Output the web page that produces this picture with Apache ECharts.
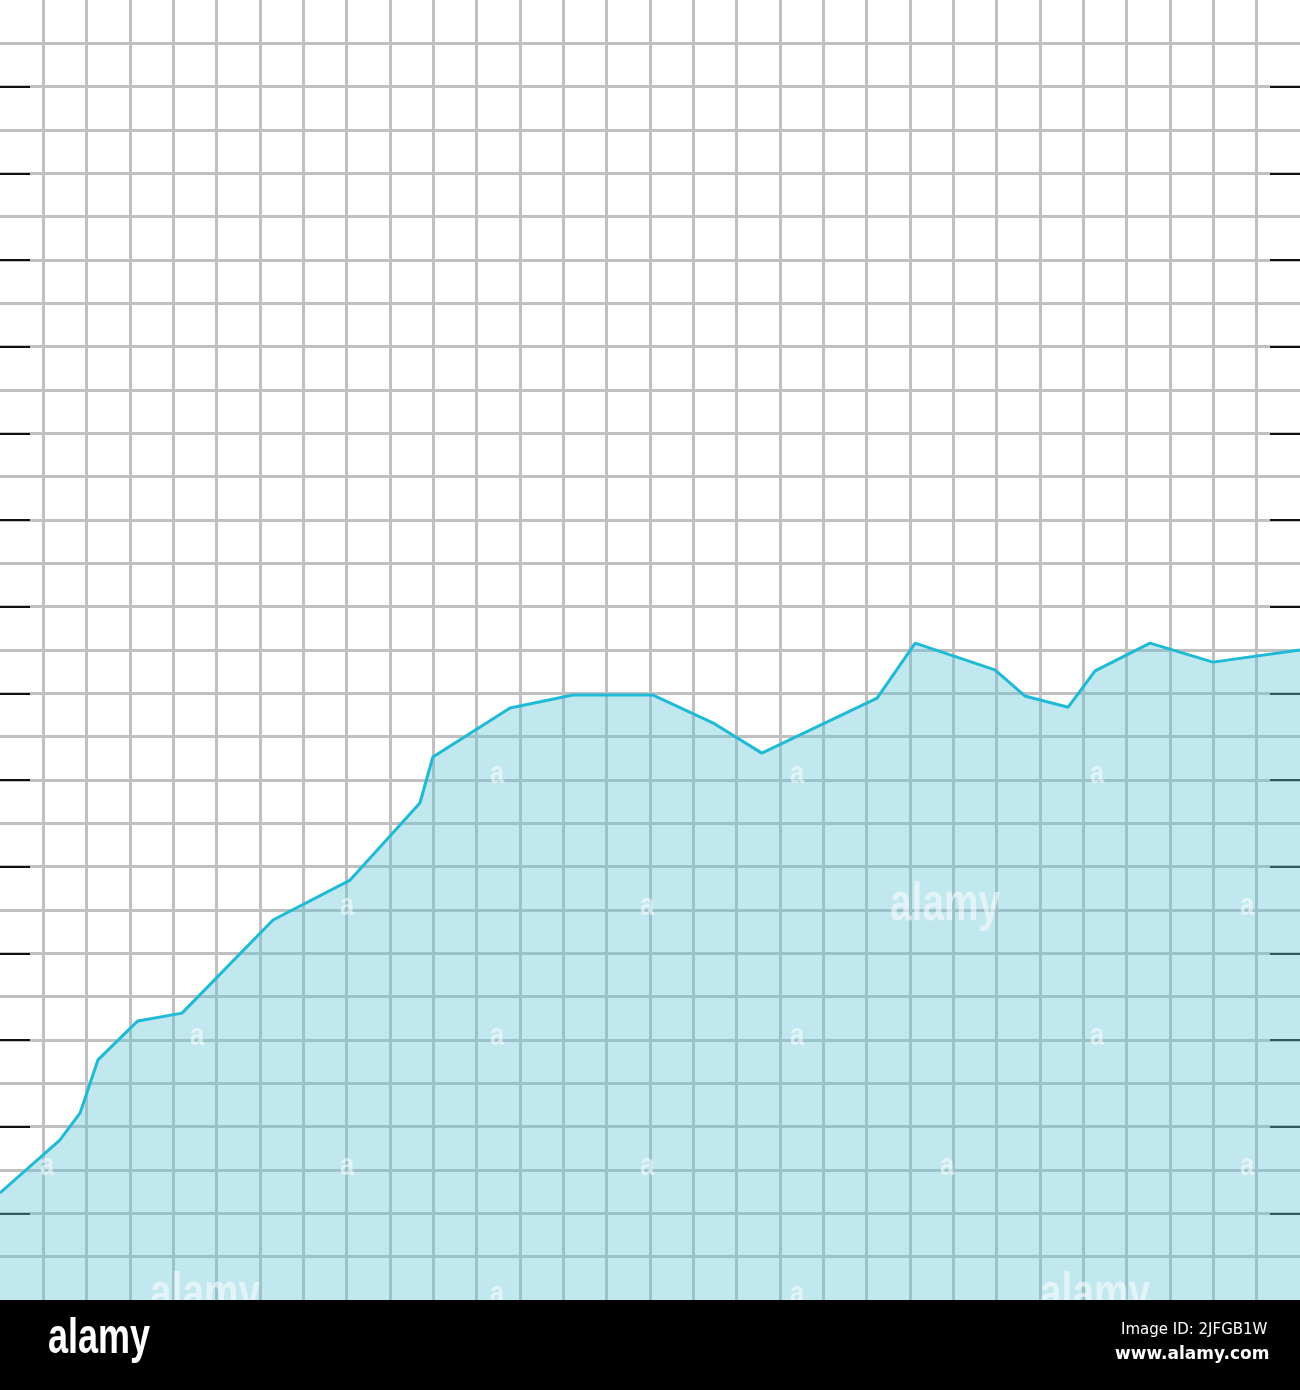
<!DOCTYPE html>
<html>
<head>
<meta charset="utf-8">
<script src="https://cdn.jsdelivr.net/npm/echarts@6/dist/echarts.min.js"></script>
<style>
  html, body { margin: 0; padding: 0; background: #ffffff; }
  #chart { width: 1300px; height: 1390px; }
</style>
</head>
<body>
<div id="chart"></div>
<script>
// Data in grid-cell units (x: 0..30, y: 0..30)
var xValues = [0, 1.38, 1.85, 2.26, 3.18, 4.2, 6.3, 8.08, 9.69, 9.99, 11.77, 13.22, 15.07, 16.45, 17.58, 20.24, 21.12, 22.96, 23.65, 24.65, 25.27, 26.54, 27.99, 30];
var yValues = [2.47, 3.69, 4.32, 5.54, 6.44, 6.62, 8.77, 9.69, 11.47, 12.53, 13.66, 13.96, 13.96, 13.32, 12.62, 13.89, 15.16, 14.54, 13.94, 13.68, 14.52, 15.16, 14.72, 15.0];
var tickValues = [2, 4, 6, 8, 10, 12, 14, 16, 18, 20, 22, 24, 26, 28];

var seriesData = xValues.map(function (x, i) { return [x, yValues[i]]; });

var chart = echarts.init(document.getElementById('chart'), null, { renderer: 'canvas' });

var narrowFont = '"Liberation Sans", "DejaVu Sans", sans-serif';
function wm(text, x, y, size, sx) {
  return {
    type: 'text', x: x, y: y, z: 50, scaleX: sx,
    style: { text: text, fill: 'rgba(255,255,255,0.55)', font: 'bold ' + size + 'px ' + narrowFont }
  };
}

function tickAxis(pos) {
  return {
    type: 'value', min: 0, max: 30, interval: 1, position: pos, offset: 0,
    axisLine: { show: false },
    axisLabel: { show: false },
    axisTick: { show: true, inside: true, length: 30, customValues: tickValues, lineStyle: { color: '#111111', width: 2 } },
    splitLine: { show: false }
  };
}

var option = {
  animation: false,
  backgroundColor: '#ffffff',
  grid: { left: 0, right: 0, top: 0, bottom: 90, containLabel: false },
  xAxis: {
    type: 'value', min: 0, max: 30, interval: 1,
    axisLine: { show: false }, axisTick: { show: false }, axisLabel: { show: false },
    splitLine: { show: true, showMinLine: false, showMaxLine: false, lineStyle: { color: '#c0c0c0', width: 3 } }
  },
  yAxis: [
    {
      type: 'value', min: 0, max: 30, interval: 1, position: 'left', offset: 0,
      axisLine: { show: false },
      axisLabel: { show: false },
      axisTick: { show: false },
      splitLine: { show: true, showMinLine: false, showMaxLine: false, lineStyle: { color: '#c0c0c0', width: 3 } }
    },
    tickAxis('left'),
    tickAxis('right')
  ],
  series: [{
    type: 'line',
    data: seriesData,
    showSymbol: false,
    symbol: 'none',
    lineStyle: { color: '#1fbad6', width: 3 },
    areaStyle: { color: 'rgb(100,195,215)', opacity: 0.4 },
    z: 3
  }],
  graphic: [
    { type: 'rect', left: 0, top: 1300, z: 100, shape: { width: 1300, height: 90 }, style: { fill: '#000000' } },
    { type: 'text', x: 48, y: 1314, z: 101, scaleX: 0.72, style: { text: 'alamy', fill: '#ffffff', font: 'bold 50px ' + narrowFont } },
    { type: 'text', left: 1121, top: 1323, z: 101, style: { text: 'Image ID: 2JFGB1W', fill: '#ffffff', font: '15px "DejaVu Sans", sans-serif' } },
    { type: 'text', left: 1115, top: 1346, z: 101, style: { text: 'www.alamy.com', fill: '#ffffff', font: 'bold 17px "DejaVu Sans", sans-serif' } },
    wm('alamy', 890, 878, 54, 0.72),
    wm('alamy', 150, 1268, 54, 0.72),
    wm('alamy', 1040, 1268, 54, 0.72),
    wm('a', 40, 1150, 32, 0.8),
    wm('a', 190, 1020, 32, 0.8),
    wm('a', 340, 890, 32, 0.8),
    wm('a', 490, 758, 32, 0.8),
    wm('a', 790, 758, 32, 0.8),
    wm('a', 1090, 758, 32, 0.8),
    wm('a', 490, 1020, 32, 0.8),
    wm('a', 790, 1020, 32, 0.8),
    wm('a', 1090, 1020, 32, 0.8),
    wm('a', 640, 890, 32, 0.8),
    wm('a', 1240, 890, 32, 0.8),
    wm('a', 340, 1150, 32, 0.8),
    wm('a', 640, 1150, 32, 0.8),
    wm('a', 940, 1150, 32, 0.8),
    wm('a', 1240, 1150, 32, 0.8),
    wm('a', 490, 1278, 32, 0.8),
    wm('a', 790, 1278, 32, 0.8)
  ]
};

chart.setOption(option);
</script>
</body>
</html>
